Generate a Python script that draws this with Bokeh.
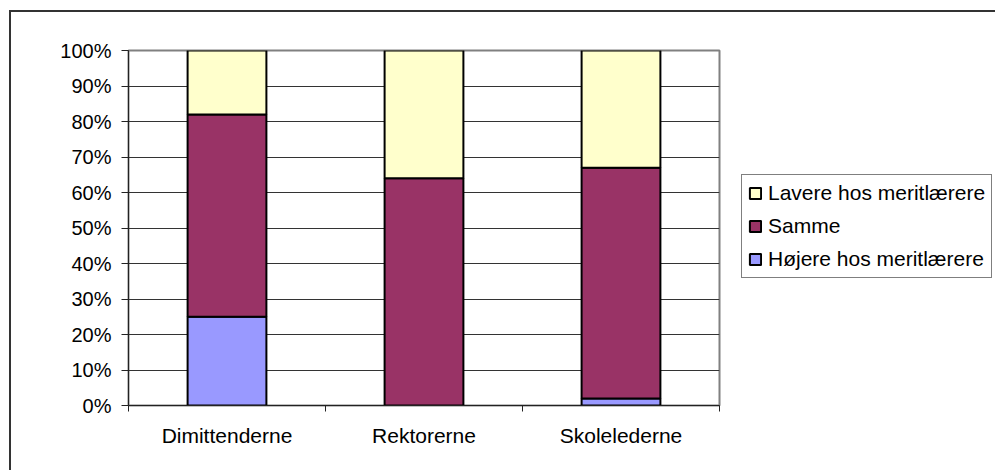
from bokeh.plotting import figure
from bokeh.models import (FixedTicker, PrintfTickFormatter, Legend, LegendItem,
                          ColumnDataSource, Range1d, InlineStyleSheet)
from bokeh.embed import file_html
from bokeh.resources import INLINE

categories = ["Dimittenderne", "Rektorerne", "Skolelederne"]
hojere = [25, 0, 2]
samme = [57, 64, 65]
lavere = [18, 36, 33]
series_names = ["Højere hos meritlærere", "Samme", "Lavere hos meritlærere"]
colors = ["#9999FF", "#993366", "#FFFFCC"]
y_ticks = [0, 10, 20, 30, 40, 50, 60, 70, 80, 90, 100]

x = [i + 0.5 for i in range(len(categories))]
boundaries = [float(i) for i in range(len(categories) + 1)]
source = ColumnDataSource(dict(x=x, h=hojere, s=samme, l=lavere))

FONT = "Liberation Sans"

p = figure(frame_width=591, frame_height=355, x_range=Range1d(0, len(categories)),
           y_range=Range1d(0, 100), output_backend="svg", toolbar_location=None,
           min_border_left=128, min_border_right=276, min_border_top=50,
           min_border_bottom=65)
p.background_fill_color = "white"
p.border_fill_color = None
p.outline_line_color = "#808080"
p.outline_line_width = 2

# outer chart border (drawn behind the transparent canvas)
p.stylesheets = [InlineStyleSheet(css=(
    ":host { background-color: white;"
    " background-image: linear-gradient(#333333, #333333), linear-gradient(#333333, #333333);"
    " background-position: 9px 10px, 9px 10px;"
    " background-size: 3000px 2px, 2px 3000px;"
    " background-repeat: no-repeat, no-repeat; }"))]

renderers = p.vbar_stack(["h", "s", "l"], x="x", width=0.4, source=source,
                         fill_color=colors, line_color="black", line_width=2)

# y axis
p.yaxis.ticker = FixedTicker(ticks=y_ticks)
p.yaxis.formatter = PrintfTickFormatter(format="%d%%")
p.yaxis.minor_tick_line_color = None
p.yaxis.major_tick_in = 0
p.yaxis.major_tick_out = 7
p.yaxis.major_tick_line_color = "#222222"
p.yaxis.axis_line_color = "#222222"
p.yaxis.major_label_standoff = 10
p.yaxis.major_label_text_font = FONT
p.yaxis.major_label_text_font_size = "20px"
p.yaxis.major_label_text_color = "black"

# x axis
p.xaxis.ticker = FixedTicker(ticks=x, minor_ticks=boundaries)
p.xaxis.major_label_overrides = {xv: c for xv, c in zip(x, categories)}
p.xaxis.major_tick_line_color = None
p.xaxis.major_tick_in = 0
p.xaxis.major_tick_out = 0
p.xaxis.minor_tick_in = 0
p.xaxis.minor_tick_out = 6
p.xaxis.minor_tick_line_color = "#222222"
p.xaxis.axis_line_color = "#222222"
p.xaxis.major_label_standoff = 12
p.xaxis.major_label_text_font = FONT
p.xaxis.major_label_text_font_size = "21px"
p.xaxis.major_label_text_color = "black"

# grid
p.xgrid.visible = False
p.ygrid.ticker = FixedTicker(ticks=y_ticks)
p.ygrid.grid_line_color = "#333333"
p.ygrid.grid_line_width = 1

# legend
items = [LegendItem(label=series_names[i], renderers=[renderers[i]])
         for i in reversed(range(len(series_names)))]
legend = Legend(items=items, location=(22, 127), margin=0, padding=6,
                spacing=9, glyph_width=14, glyph_height=14, label_standoff=6,
                label_height=20, label_text_font=FONT, label_text_font_size="21px",
                label_text_color="black", border_line_color="black",
                border_line_width=1, background_fill_color="white",
                background_fill_alpha=1)
p.add_layout(legend, "right")

open("out.html", "w").write(file_html(p, INLINE))
